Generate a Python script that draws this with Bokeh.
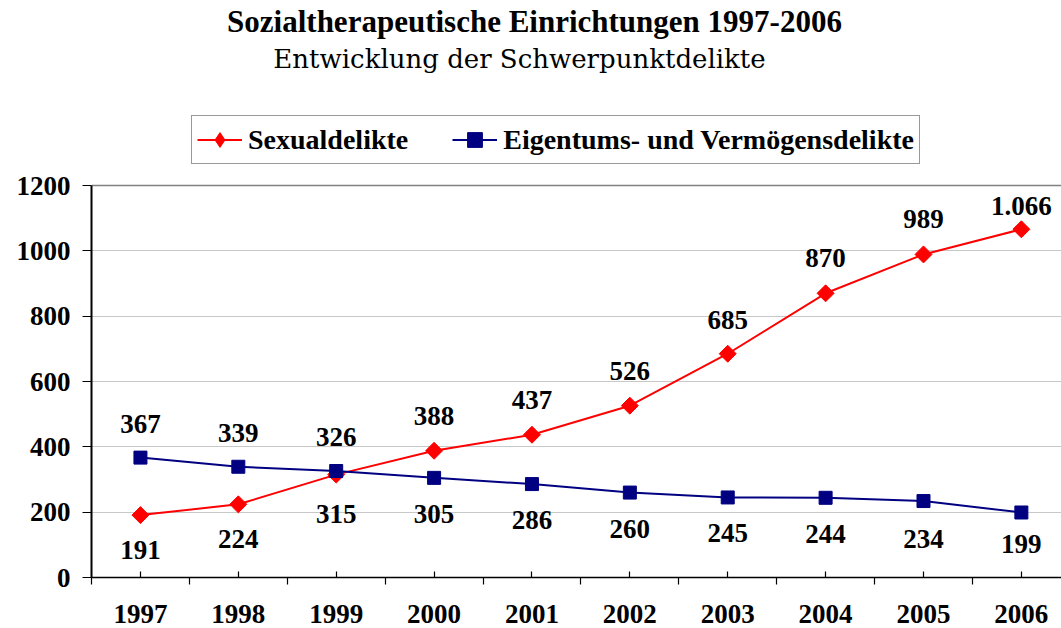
import math
from bokeh.plotting import figure
from bokeh.models import (Range1d, FixedTicker, Legend, LegendItem, Grid,
                          ColumnDataSource, LabelSet, Label)
from bokeh.embed import file_html
from bokeh.resources import INLINE

# ---- data ----
years = [1997, 1998, 1999, 2000, 2001, 2002, 2003, 2004, 2005, 2006]
sexualdelikte = [191, 224, 315, 388, 437, 526, 685, 870, 989, 1066]
eigentum = [367, 339, 326, 305, 286, 260, 245, 244, 234, 199]
sexual_text = ["191", "224", "315", "388", "437", "526", "685", "870", "989", "1.066"]
eigentum_text = ["367", "339", "326", "305", "286", "260", "245", "244", "234", "199"]
y_ticks = [0, 200, 400, 600, 800, 1000, 1200]
series_names = ["Sexualdelikte", "Eigentums- und Vermögensdelikte"]
title_text = "Sozialtherapeutische Einrichtungen 1997-2006"
subtitle_text = "Entwicklung der Schwerpunktdelikte"

# label placement (screen px, positive = up)
sexual_off = [-35, -35, -39, 35, 35, 35, 34, 35, 35, 23]
eigentum_off = [34, 34, 34, -36, -36, -36, -36, -36, -38, -32]

FONT = "Liberation Serif"
RED = "#FF0000"
NAVY = "#000080"

W, H = 1061, 628
LEFT, BOTTOM = 91, 51
FRAME_H = H - BOTTOM            # frame spans to the top of the canvas
AXIS_H = 392                    # pixels for 0..1200
y_top = y_ticks[-1] * FRAME_H / AXIS_H

p = figure(width=W, height=H, output_backend="svg", toolbar_location=None,
           x_range=Range1d(1996.5, 2006.41), y_range=Range1d(0, y_top),
           min_border_left=LEFT, min_border_right=0, min_border_top=0,
           min_border_bottom=BOTTOM)
p.outline_line_color = None
p.background_fill_color = "white"
p.border_fill_color = "white"

# grid
p.xgrid.grid_line_color = None
p.ygrid.ticker = FixedTicker(ticks=y_ticks[1:-1])
p.ygrid.grid_line_color = "#c8c8c8"
p.ygrid.grid_line_width = 1
top_grid = Grid(dimension=1, ticker=FixedTicker(ticks=y_ticks[-1:]),
                grid_line_color="#808080", grid_line_width=1.5)
p.add_layout(top_grid)

# axes
xa = p.xaxis[0]
xa.ticker = FixedTicker(ticks=years, minor_ticks=[y - 0.5 for y in years] + [years[-1] + 0.5])
xa.major_tick_in = 6
xa.major_tick_out = 0
xa.minor_tick_in = 0
xa.minor_tick_out = 7
xa.axis_line_width = 1.5
xa.major_tick_line_width = 1.2
xa.minor_tick_line_width = 1.2
xa.axis_line_color = "black"
xa.major_label_text_font = FONT
xa.major_label_text_font_style = "bold"
xa.major_label_text_font_size = "27px"
xa.major_label_text_color = "black"
xa.major_label_standoff = 20

ya = p.yaxis[0]
ya.ticker = FixedTicker(ticks=y_ticks)
ya.bounds = (y_ticks[0], y_ticks[-1])
ya.minor_tick_line_color = None
ya.major_tick_in = 0
ya.major_tick_out = 9
ya.major_tick_line_width = 1.2
ya.axis_line_width = 2
ya.axis_line_color = "black"
ya.major_label_text_font = FONT
ya.major_label_text_font_style = "bold"
ya.major_label_text_font_size = "27px"
ya.major_label_text_color = "black"
ya.major_label_standoff = 12

src_s = ColumnDataSource(dict(x=years, y=sexualdelikte, t=sexual_text, off=sexual_off))
src_e = ColumnDataSource(dict(x=years, y=eigentum, t=eigentum_text, off=eigentum_off))

l1 = p.line("x", "y", source=src_s, line_color=RED, line_width=2)
# diamond used for the legend symbol (hidden beneath the plotted rotated squares)
m1_leg = p.scatter("x", "y", source=src_s, marker="diamond", size=11,
                   fill_color=RED, line_color=RED)
m1 = p.scatter("x", "y", source=src_s, marker="square", angle=math.pi / 4, size=12,
               fill_color=RED, line_color=RED)
l2 = p.line("x", "y", source=src_e, line_color=NAVY, line_width=2)
m2 = p.scatter("x", "y", source=src_e, marker="square", size=13,
               fill_color=NAVY, line_color=NAVY)

for src in (src_s, src_e):
    ls = LabelSet(x="x", y="y", text="t", y_offset="off", source=src,
                  text_align="center", text_baseline="middle",
                  text_font=FONT, text_font_style="bold",
                  text_font_size="27px", text_color="black")
    p.add_layout(ls)

legend = Legend(items=[LegendItem(label=series_names[0], renderers=[l1, m1_leg]),
                       LegendItem(label=series_names[1], renderers=[l2, m2])],
                orientation="horizontal", location=(100, 413),
                label_text_font=FONT, label_text_font_style="bold",
                label_text_font_size="28px", label_text_color="black",
                glyph_width=45, glyph_height=37, label_height=37,
                label_standoff=6, spacing=44, padding=5, margin=0,
                border_line_color="#333333", border_line_width=1.5,
                background_fill_color="white", background_fill_alpha=1)
p.add_layout(legend)

p.add_layout(Label(x=443, y=556, x_units="screen", y_units="screen", text=title_text,
                   text_align="center", text_baseline="middle", text_font=FONT,
                   text_font_style="bold", text_font_size="31px", text_color="black"))
p.add_layout(Label(x=428, y=519, x_units="screen", y_units="screen", text=subtitle_text,
                   text_align="center", text_baseline="middle", text_font="DejaVu Serif",
                   text_font_size="26px", text_color="black"))

open("out.html", "w").write(file_html(p, INLINE))
